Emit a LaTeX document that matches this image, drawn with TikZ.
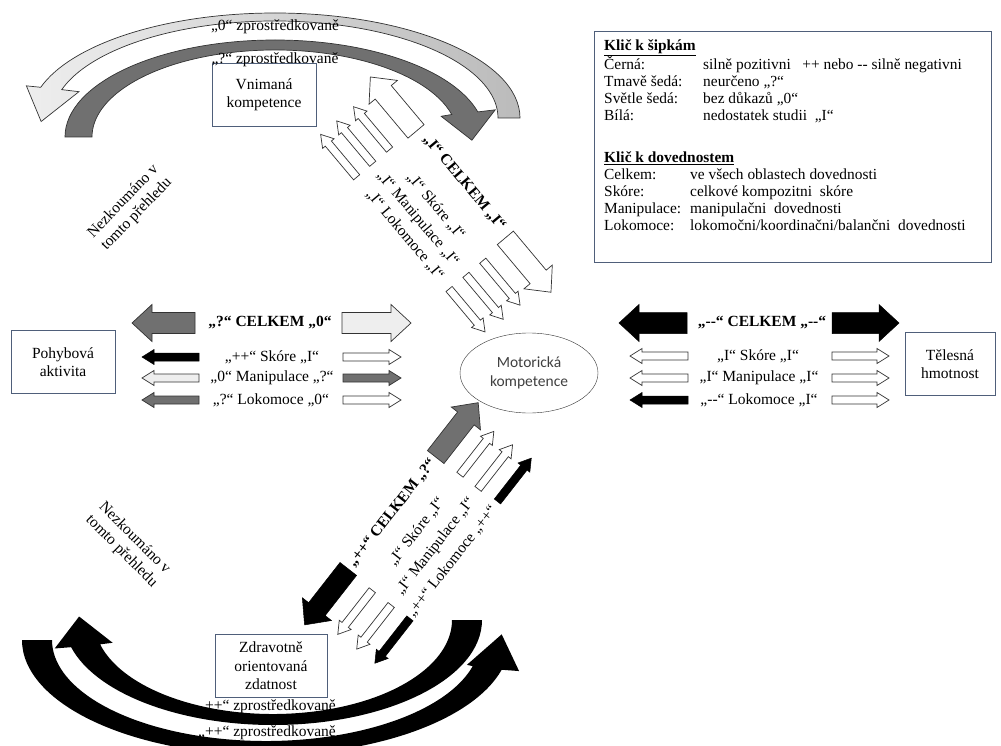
\documentclass[tikz,border=0pt]{standalone}
\usepackage{fontspec}
\setmainfont{Liberation Serif}
\newfontfamily\sansmc{Carlito}
\usetikzlibrary{calc,shapes.geometric,positioning}

\definecolor{boxline}{HTML}{4F5F7A}
\definecolor{outl}{HTML}{333333}
\definecolor{dgrey}{HTML}{707070}
\definecolor{lgrey}{HTML}{EEEEEE}
\definecolor{mgrey}{HTML}{BBBBBB}
\definecolor{mctext}{HTML}{404040}

\newcommand{\lbl}{\fontsize{15.5}{18.5}\selectfont}
\newcommand{\keyfont}{\fontsize{15.4}{17}\selectfont}
\newcommand{\twodash}{-\kern0pt-}

% straight block arrow: style, y, tail x, tip x, shaft half, head half, head length
\newcommand{\blockarr}[7]{%
  \pgfmathsetmacro{\hb}{(#4)-sign((#4)-(#3))*(#7)}%
  \pgfmathsetmacro{\ya}{(#2)-(#5)}\pgfmathsetmacro{\yb}{(#2)+(#5)}%
  \pgfmathsetmacro{\yc}{(#2)-(#6)}\pgfmathsetmacro{\yd}{(#2)+(#6)}%
  \path[#1] (#3,\ya) -- (\hb,\ya) -- (\hb,\yc) -- (#4,#2)
    -- (\hb,\yd) -- (\hb,\yb) -- (#3,\yb) -- cycle;}
\newcommand{\bigblk}[4]{\blockarr{#1}{#2}{#3}{#4}{10.5}{18.5}{20}}
\newcommand{\smallblk}[4]{\blockarr{#1}{#2}{#3}{#4}{4}{7.5}{12}}

\begin{document}
\begin{tikzpicture}[x=1pt, y=-1pt,
    box/.style={draw=boxline, line width=0.8pt, rectangle, minimum width=104pt,
                minimum height=63pt, align=center, inner sep=1pt, font=\lbl},
    lbl/.style={font=\lbl, inner sep=0pt, align=center},
    celk/.style={font=\lbl\bfseries, inner sep=0pt},
    blkarr/.style={fill=black, draw=black, line width=0.5pt},
    dgarr/.style={fill=dgrey, draw=outl, line width=0.7pt},
    lgarr/.style={fill=lgrey, draw=outl, line width=0.7pt},
    wharr/.style={fill=white, draw=outl, line width=0.7pt}]

    \path[fill=white] (0,0) rectangle (1001,746);
    \useasboundingbox (0,0) rectangle (1001,746);

    % Curved arrows, top
    \begin{scope}[shift={(275,118)}]
        \path[draw=outl, line width=0.7pt, left color=lgrey, right color=mgrey]
            (360:245 and 105) arc[start angle=360, end angle=197, x radius=245, y radius=105]
            -- (197:260 and 110) -- (178:234 and 101) -- (197:205 and 90) -- (197:223 and 97)
            arc[start angle=197, end angle=360, x radius=223, y radius=97] -- cycle;
    \end{scope}
    \begin{scope}[shift={(275,137)}]
        \path[draw=outl, line width=0.7pt, fill=dgrey]
            (180:210 and 97) arc[start angle=180, end angle=345, x radius=210, y radius=97]
            -- (345:228 and 105) -- (362:197 and 92) -- (345:172 and 80) -- (345:183 and 87)
            arc[start angle=345, end angle=180, x radius=183, y radius=87] -- cycle;
    \end{scope}

    % Curved arrows, bottom
    \begin{scope}[shift={(273,620)}]
        \path[fill=black]
            (0:209 and 105) arc[start angle=0, end angle=165, x radius=209, y radius=105]
            -- (165:226 and 110) -- (182:194 and 100) -- (165:166 and 88) -- (165:179 and 94)
            arc[start angle=165, end angle=0, x radius=179, y radius=94] -- cycle;
    \end{scope}
    \begin{scope}[shift={(266,640)}]
        \path[fill=black]
            (180:244 and 115) arc[start angle=180, end angle=15, x radius=244, y radius=115]
            -- (15:262 and 120) -- (357:236 and 108) -- (15:208 and 96) -- (15:214 and 101)
            arc[start angle=15, end angle=180, x radius=214, y radius=101] -- cycle;
    \end{scope}

    % Nodes
    \node [box]                        (vk)  at (264,95)  {Vnimaná\\kompetence};
    \node [box]                        (pa)  at (63,362)  {Pohybová\\aktivita};
    \node [box, minimum width=90pt]    (th)  at (950,364) {Tělesná\\hmotnost};
    \node [box, minimum width=112pt]   (zoz) at (271,666) {Zdravotně\\orientovaná\\zdatnost};
    \node [draw=outl, ellipse, minimum width=138pt, minimum height=80pt, inner sep=0pt,
           align=center, font=\sansmc\fontsize{15.5}{19}\selectfont, text=mctext]
                                       (mc)  at (529,373) {Motorická\\kompetence};

    \node [lbl] (zp0) at (275,27)  {„0“ zprostředkovaně};
    \node [lbl] (zpq) at (275,60)  {„?“ zprostředkovaně};
    \node [lbl] (zp1) at (267,707) {„++“ zprostředkovaně};
    \node [lbl] (zp2) at (267,733) {„++“ zprostředkovaně};

    \node [lbl, rotate=46]  (nz1) at (130,208) {Nezkoumáno v\\tomto přehledu};
    \node [lbl, rotate=-45] (nz2) at (128,545) {Nezkoumáno v\\tomto přehledu};

    % Left group
    \bigblk{dgarr}{323}{195}{132}   \bigblk{lgarr}{323}{342}{411}
    \smallblk{blkarr}{357}{199}{142} \smallblk{wharr}{357}{343}{401}
    \smallblk{lgarr}{378}{199}{142}  \smallblk{dgarr}{378}{343}{401}
    \smallblk{dgarr}{400}{199}{142}  \smallblk{wharr}{400}{343}{401}
    \node [celk] (pa0) at (270,323) {„?“ CELKEM „0“};
    \node [lbl]  (pa1) at (272,357) {„++“ Skóre „I“};
    \node [lbl]  (pa2) at (272,378) {„0“ Manipulace „?“};
    \node [lbl]  (pa3) at (271,400) {„?“ Lokomoce „0“};

    % Right group
    \bigblk{blkarr}{323}{687}{619}   \bigblk{blkarr}{323}{832}{899}
    \smallblk{wharr}{356}{688}{630}  \smallblk{wharr}{356}{832}{889}
    \smallblk{wharr}{378}{688}{630}  \smallblk{wharr}{378}{832}{889}
    \smallblk{blkarr}{400}{688}{630} \smallblk{wharr}{400}{832}{889}
    \node [celk] (th0) at (762,323) {„\twodash“ CELKEM „\twodash“};
    \node [lbl]  (th1) at (758,356) {„I“ Skóre „I“};
    \node [lbl]  (th2) at (759,378) {„I“ Manipulace „I“};
    \node [lbl]  (th3) at (759,400) {„\twodash“ Lokomoce „I“};

    % Upper diagonal group
    \begin{scope}[shift={(461,185)}, rotate=-50]
        \bigblk{wharr}{0}{-70}{-141}   \bigblk{wharr}{0}{69}{140}
        \smallblk{wharr}{32}{-73}{-129} \smallblk{wharr}{32}{72}{130}
        \smallblk{wharr}{54}{-73}{-129} \smallblk{wharr}{54}{72}{130}
        \smallblk{wharr}{75}{-73}{-129} \smallblk{wharr}{76}{72}{128}
        \node [celk, transform shape] (vk0) at (0,-4) {„I“ CELKEM „I“};
        \node [lbl, transform shape]  (vk1) at (0,33) {„I“ Skóre „I“};
        \node [lbl, transform shape]  (vk2) at (-2,55) {„I“ Manipulace „I“};
        \node [lbl, transform shape]  (vk3) at (2,75) {„I“ Lokomoce „I“};
    \end{scope}

    % Lower diagonal group
    \begin{scope}[shift={(392,513)}, rotate=52]
        \bigblk{blkarr}{0}{-71}{-142}    \bigblk{dgarr}{0}{71}{140}
        \smallblk{wharr}{32}{-73}{-129}  \smallblk{wharr}{30}{72}{127}
        \smallblk{wharr}{56}{-73}{-129}  \smallblk{wharr}{53}{72}{128}
        \smallblk{blkarr}{79}{-72}{-129} \smallblk{blkarr}{76}{74}{129}
        \node [celk, transform shape] (zz0) at (0,0)   {„++“ CELKEM „?“};
        \node [lbl, transform shape]  (zz1) at (0,31)  {„I“ Skóre „I“};
        \node [lbl, transform shape]  (zz2) at (0,55)  {„I“ Manipulace „I“};
        \node [lbl, transform shape]  (zz3) at (-1,77) {„++“ Lokomoce „++“};
    \end{scope}

    % Key
    \node [draw=boxline, line width=0.8pt, minimum width=397pt, minimum height=231pt,
           inner sep=0pt, anchor=north west] (key) at (594,31) {};
    \node [font=\keyfont, inner sep=0pt, anchor=base west] (key1) at (604,51)
        {\begin{tabular}[t]{@{}p{99pt}@{}l@{}}
         \multicolumn{2}{@{}l}{\textbf{\underline{Klič k šipkám}}}\\
         Černá: & silně pozitivni \ \ ++ nebo \twodash{} silně negativni\\
         Tmavě šedá: & neurčeno „?“\\
         Světle šedá: & bez důkazů „0“\\
         Bílá: & nedostatek studii \ „I“
         \end{tabular}};
    \node [font=\keyfont, inner sep=0pt, anchor=base west] (key2) at (604,163)
        {\begin{tabular}[t]{@{}p{86pt}@{}l@{}}
         \multicolumn{2}{@{}l}{\textbf{\underline{Klič k dovednostem}}}\\
         Celkem: & ve všech oblastech dovednosti\\
         Skóre: & celkové kompozitni \ skóre\\
         Manipulace: & manipulačni \ dovednosti\\
         Lokomoce: & lokomočni/koordinačni/balančni \ dovednosti
         \end{tabular}};
\end{tikzpicture}
\end{document}
